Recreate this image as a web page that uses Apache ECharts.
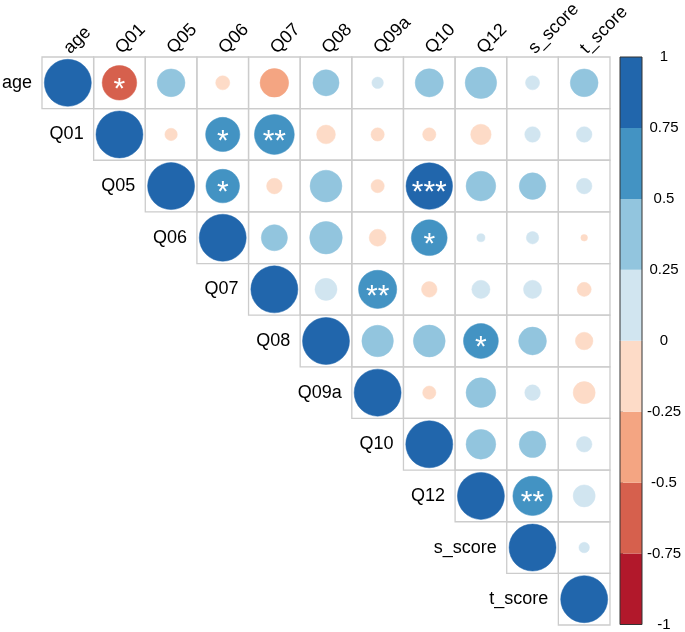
<!DOCTYPE html>
<html>
<head>
<meta charset="utf-8">
<script src="https://cdn.jsdelivr.net/npm/echarts@6/dist/echarts.min.js"></script>
<style>
html,body{margin:0;padding:0;background:#fff;}
#chart{width:685px;height:632px;}
</style>
</head>
<body>
<div id="chart"></div>
<script>
// Variables (row/column order)
const vars = ['age','Q01','Q05','Q06','Q07','Q08','Q09a','Q10','Q12','s_score','t_score'];

// Upper-triangle correlation rows (starting at the diagonal)
const corAge  = [1, -0.54, 0.35, -0.09, -0.37, 0.31, 0.06, 0.36, 0.45, 0.09, 0.35];
const corQ01  = [1, -0.07, 0.53, 0.72, -0.16, -0.08, -0.08, -0.19, 0.11, 0.11];
const corQ05  = [1, 0.51, -0.11, 0.46, -0.08, 0.98, 0.40, 0.32, 0.11];
const corQ06  = [1, 0.31, 0.48, -0.13, 0.58, 0.03, 0.07, -0.02];
const corQ07  = [1, 0.22, 0.66, -0.11, 0.15, 0.15, -0.09];
const corQ08  = [1, 0.45, 0.46, 0.55, 0.35, -0.14];
const corQ09a = [1, -0.08, 0.40, 0.11, -0.22];
const corQ10  = [1, 0.40, 0.32, 0.11];
const corQ12  = [1, 0.70, 0.22];
const corS    = [1, 0.05];
const corT    = [1];

// Significance marks: [row, column, stars]
const sigMarks = [
  ['age','Q01','*'],
  ['Q01','Q06','*'],
  ['Q01','Q07','**'],
  ['Q05','Q06','*'],
  ['Q05','Q10','***'],
  ['Q06','Q10','*'],
  ['Q07','Q09a','**'],
  ['Q08','Q12','*'],
  ['Q12','s_score','**']
];

// Color legend
const legendBreaks = [-1, -0.75, -0.5, -0.25, 0, 0.25, 0.5, 0.75, 1];
const legendColors = ['#B2182B','#D6604D','#F4A582','#FDDBC7','#D1E5F0','#92C5DE','#4393C3','#2166AC'];
const legendTicks  = ['-1','-0.75','-0.5','-0.25','0','0.25','0.5','0.75','1'];

const rows = [corAge, corQ01, corQ05, corQ06, corQ07, corQ08, corQ09a, corQ10, corQ12, corS, corT];

function colorFor(v){
  for (let k = 0; k < legendColors.length; k++){
    if (v <= legendBreaks[k+1] + 1e-9) return legendColors[k];
  }
  return legendColors[legendColors.length-1];
}

const sigLookup = {};
sigMarks.forEach(m => { sigLookup[vars.indexOf(m[0]) + '_' + vars.indexOf(m[1])] = m[2]; });

const cellData = [];
rows.forEach((row, i) => {
  row.forEach((v, k) => {
    const j = i + k;
    cellData.push([j, i, v]);
  });
});

const labelData = vars.map((v, i) => [i, i]);
const legendData = legendColors.map((c, k) => [legendBreaks[k], legendBreaks[k+1], k]);

const FONT = "'Liberation Sans', Arial, Helvetica, sans-serif";

const chart = echarts.init(document.getElementById('chart'), null, {renderer: 'canvas'});

const option = {
  animation: false,
  backgroundColor: '#ffffff',
  grid: [
    {left: 42, top: 57, width: 568, height: 568},
    {left: 620, top: 57, width: 22, height: 568}
  ],
  xAxis: [
    {type: 'category', data: vars, gridIndex: 0, show: false},
    {type: 'value', min: 0, max: 1, gridIndex: 1, show: false}
  ],
  yAxis: [
    {type: 'category', data: vars, gridIndex: 0, inverse: true, show: false},
    {type: 'value', gridIndex: 1, min: -1, max: 1, interval: 0.25, position: 'right',
     axisLine: {show: false},
     axisTick: {show: true, inside: false, length: 3, lineStyle: {color: '#333', width: 1}},
     splitLine: {show: false},
     axisLabel: {show: true, margin: 22, align: 'center', color: '#000', fontSize: 15, fontFamily: FONT,
       formatter: function(val){ const idx = legendBreaks.findIndex(b => Math.abs(b - val) < 1e-9); return idx >= 0 ? legendTicks[idx] : ''; }}
    }
  ],
  series: [
    {
      type: 'custom',
      xAxisIndex: 0, yAxisIndex: 0,
      data: cellData,
      renderItem: function(params, api){
        const x = api.value(0), y = api.value(1), v = api.value(2);
        const c = api.coord([x, y]);
        const s = api.size([1, 1]);
        const r = s[0] * 0.455 * Math.sqrt(Math.abs(v));
        const col = colorFor(v);
        const children = [
          {type: 'rect', shape: {x: c[0] - s[0]/2, y: c[1] - s[1]/2, width: s[0], height: s[1]},
           style: {fill: null, stroke: '#cccccc', lineWidth: 1.3}},
          {type: 'circle', shape: {cx: c[0], cy: c[1], r: r}, style: {fill: col, stroke: col, lineWidth: 0.5}}
        ];
        const star = sigLookup[y + '_' + x];
        if (star){
          children.push({type: 'text', x: c[0], y: c[1] + 7,
            style: {text: star, fill: '#ffffff', font: '30px ' + FONT, textAlign: 'center', textVerticalAlign: 'middle'}});
        }
        return {type: 'group', children: children};
      }
    },
    {
      type: 'custom',
      xAxisIndex: 0, yAxisIndex: 0,
      data: labelData,
      renderItem: function(params, api){
        const i = api.value(0);
        const c = api.coord([i, i]);
        const s = api.size([1, 1]);
        const top = api.coord([i, 0]);
        return {type: 'group', children: [
          {type: 'text', x: c[0] - s[0]/2 - 10, y: c[1],
           style: {text: vars[i], fill: '#000', font: '18px ' + FONT, textAlign: 'right', textVerticalAlign: 'middle'}},
          {type: 'text', x: top[0] - 1, y: top[1] - s[1]/2 - 6, rotation: Math.PI/4,
           style: {text: vars[i], fill: '#000', font: '18px ' + FONT, textAlign: 'left', textVerticalAlign: 'middle'}}
        ]};
      }
    },
    {
      type: 'custom',
      xAxisIndex: 1, yAxisIndex: 1,
      data: legendData,
      renderItem: function(params, api){
        const lo = api.value(0), hi = api.value(1), k = api.value(2);
        const p0 = api.coord([0, hi]);
        const p1 = api.coord([1, lo]);
        const children = [
          {type: 'rect', shape: {x: p0[0], y: p0[1], width: p1[0] - p0[0], height: p1[1] - p0[1]},
           style: {fill: legendColors[k], stroke: null}}
        ];
        if (k === legendColors.length - 1){
          const a = api.coord([0, 1]);
          const b = api.coord([1, -1]);
          children.push({type: 'rect', shape: {x: a[0], y: a[1], width: b[0] - a[0], height: b[1] - a[1]},
            style: {fill: null, stroke: '#333', lineWidth: 1}, z2: 10});
        }
        return {type: 'group', children: children};
      }
    }
  ]
};

chart.setOption(option);
</script>
</body>
</html>
